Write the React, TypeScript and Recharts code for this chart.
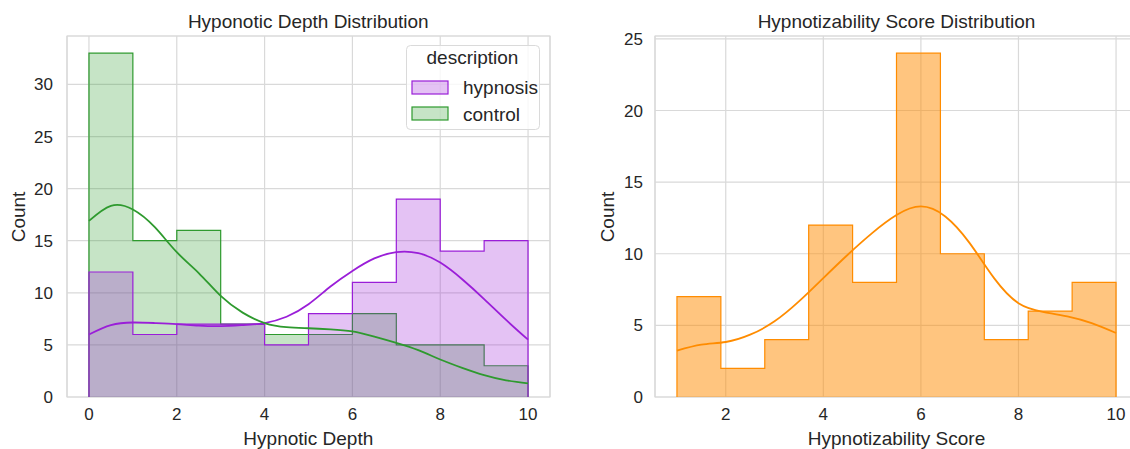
import React from 'react';
import {
  ComposedChart,
  Area,
  Line,
  XAxis,
  YAxis,
  CartesianGrid,
  ReferenceArea,
} from 'recharts';

// ---------- data ----------
const depthBinEdges = [0, 1, 2, 3, 4, 5, 6, 7, 8, 9, 10];
const hypnosisCounts = [12, 6, 7, 7, 5, 8, 11, 19, 14, 15];
const controlCounts = [33, 15, 16, 7, 6, 6, 8, 5, 5, 3];

const depthKdeX = [0, 0.5, 1, 1.5, 2, 2.5, 3, 3.5, 4, 4.5, 5, 5.5, 6, 6.5, 7, 7.5, 8, 8.5, 9, 9.5, 10];
const hypnosisKde = [6.0, 6.9, 7.15, 7.1, 7.0, 6.85, 6.8, 6.9, 7.1, 7.7, 8.9, 10.6, 12.1, 13.3, 13.9, 13.8, 12.9, 11.3, 9.4, 7.4, 5.5];
const controlKde = [16.9, 18.35, 18.0, 16.3, 13.9, 11.9, 9.7, 8.1, 7.1, 6.7, 6.6, 6.5, 6.3, 5.8, 5.2, 4.5, 3.6, 2.8, 2.1, 1.6, 1.3];

const scoreBinEdges = [1, 1.9, 2.8, 3.7, 4.6, 5.5, 6.4, 7.3, 8.2, 9.1, 10];
const scoreCounts = [7, 2, 4, 12, 8, 24, 10, 4, 6, 8];

const scoreKdeX = [1, 1.5, 2, 2.5, 3, 3.5, 4, 4.5, 5, 5.5, 6, 6.5, 7, 7.5, 8, 8.5, 9, 9.5, 10];
const scoreKde = [3.23, 3.65, 3.84, 4.35, 5.28, 6.67, 8.3, 9.93, 11.44, 12.7, 13.3, 12.6, 10.74, 8.3, 6.55, 5.95, 5.63, 5.16, 4.47];

const depthXTicks = [0, 2, 4, 6, 8, 10];
const depthYTicks = [0, 5, 10, 15, 20, 25, 30];
const scoreXTicks = [2, 4, 6, 8, 10];
const scoreYTicks = [0, 5, 10, 15, 20, 25];

const legendLabels = ['hypnosis', 'control'];
const legendTitle = 'description';

// ---------- helpers ----------
const stepSeries = (edges: number[], counts: number[]) => {
  const pts = [{ x: edges[0], y: 0 }];
  counts.forEach((c, i) => pts.push({ x: edges[i], y: c }));
  pts.push({ x: edges[edges.length - 1], y: counts[counts.length - 1] });
  pts.push({ x: edges[edges.length - 1], y: 0 });
  return pts;
};
const lineSeries = (xs: number[], ys: number[]) => xs.map((x, i) => ({ x, y: ys[i] }));

const hypnosisStep = stepSeries(depthBinEdges, hypnosisCounts);
const controlStep = stepSeries(depthBinEdges, controlCounts);
const scoreStep = stepSeries(scoreBinEdges, scoreCounts);
const hypnosisKdeData = lineSeries(depthKdeX, hypnosisKde);
const controlKdeData = lineSeries(depthKdeX, controlKde);
const scoreKdeData = lineSeries(scoreKdeX, scoreKde);

// ---------- style ----------
const FONT = '"Liberation Sans", Arial, Helvetica, sans-serif';
const TEXT = '#262626';
const GRID = '#d9d9d9';
const PURPLE = '#9a1ed8';
const GREEN = '#2e9a2e';
const ORANGE = '#ff8c00';
const tickStyle = { fontSize: 17, fill: TEXT, fontFamily: FONT };

const depthXDomain: [number, number] = [-0.5, 10.5];
const depthYDomain: [number, number] = [0, 34.65];
const scoreXDomain: [number, number] = [0.55, 10.45];
const scoreYDomain: [number, number] = [0, 25.2];

export default function App() {
  return (
    <div
      style={{
        position: 'absolute',
        left: 0,
        top: 0,
        width: 1130,
        height: 449,
        overflow: 'hidden',
        background: '#ffffff',
        fontFamily: FONT,
      }}
    >
      {/* Left chart */}
      <div style={{ position: 'absolute', left: 0, top: 0 }}>
        <ComposedChart width={565} height={449} margin={{ top: 36, right: 15, bottom: 0, left: 7 }}>
          <CartesianGrid stroke={GRID} strokeWidth={1.2} />
          <XAxis
            type="number"
            dataKey="x"
            domain={depthXDomain}
            ticks={depthXTicks}
            interval={0}
            allowDataOverflow
            axisLine={false}
            tickLine={false}
            tickSize={0}
            tickMargin={11}
            height={52}
            tick={tickStyle}
          />
          <YAxis
            type="number"
            domain={depthYDomain}
            ticks={depthYTicks}
            interval={0}
            allowDataOverflow
            axisLine={false}
            tickLine={false}
            tickSize={0}
            tickMargin={14}
            width={60}
            tick={tickStyle}
          />
          <ReferenceArea
            x1={depthXDomain[0]}
            x2={depthXDomain[1]}
            y1={depthYDomain[0]}
            y2={depthYDomain[1]}
            fill="none"
            stroke={GRID}
            strokeWidth={1.2}
            fillOpacity={0}
          />
          <Area
            data={controlStep}
            dataKey="y"
            type="stepAfter"
            stroke={GREEN}
            strokeWidth={1.2}
            fill={GREEN}
            fillOpacity={0.27}
            isAnimationActive={false}
            dot={false}
            activeDot={false}
          />
          <Area
            data={hypnosisStep}
            dataKey="y"
            type="stepAfter"
            stroke={PURPLE}
            strokeWidth={1.2}
            fill={PURPLE}
            fillOpacity={0.27}
            isAnimationActive={false}
            dot={false}
            activeDot={false}
          />
          <Line
            data={hypnosisKdeData}
            dataKey="y"
            type="natural"
            stroke={PURPLE}
            strokeWidth={1.8}
            dot={false}
            activeDot={false}
            isAnimationActive={false}
          />
          <Line
            data={controlKdeData}
            dataKey="y"
            type="natural"
            stroke={GREEN}
            strokeWidth={1.8}
            dot={false}
            activeDot={false}
            isAnimationActive={false}
          />
        </ComposedChart>
      </div>

      {/* Right chart */}
      <div style={{ position: 'absolute', left: 565, top: 0 }}>
        <ComposedChart width={600} height={449} margin={{ top: 36, right: 27, bottom: 0, left: 30 }}>
          <CartesianGrid stroke={GRID} strokeWidth={1.2} />
          <XAxis
            type="number"
            dataKey="x"
            domain={scoreXDomain}
            ticks={scoreXTicks}
            interval={0}
            allowDataOverflow
            axisLine={false}
            tickLine={false}
            tickSize={0}
            tickMargin={11}
            height={52}
            tick={tickStyle}
          />
          <YAxis
            type="number"
            domain={scoreYDomain}
            ticks={scoreYTicks}
            interval={0}
            allowDataOverflow
            axisLine={false}
            tickLine={false}
            tickSize={0}
            tickMargin={12}
            width={60}
            tick={tickStyle}
          />
          <ReferenceArea
            x1={scoreXDomain[0]}
            x2={scoreXDomain[1]}
            y1={scoreYDomain[0]}
            y2={scoreYDomain[1]}
            fill="none"
            stroke={GRID}
            strokeWidth={1.2}
            fillOpacity={0}
          />
          <Area
            data={scoreStep}
            dataKey="y"
            type="stepAfter"
            stroke={ORANGE}
            strokeWidth={1.2}
            fill={ORANGE}
            fillOpacity={0.5}
            isAnimationActive={false}
            dot={false}
            activeDot={false}
          />
          <Line
            data={scoreKdeData}
            dataKey="y"
            type="natural"
            stroke={ORANGE}
            strokeWidth={1.8}
            dot={false}
            activeDot={false}
            isAnimationActive={false}
          />
        </ComposedChart>
      </div>

      {/* Titles, axis labels, legend */}
      <svg
        width={1130}
        height={449}
        style={{ position: 'absolute', left: 0, top: 0, pointerEvents: 'none' }}
        fontFamily={FONT}
      >
        <text x={308.3} y={28} textAnchor="middle" fontSize={19} fill={TEXT}>
          Hyponotic Depth Distribution
        </text>
        <text x={896.5} y={28} textAnchor="middle" fontSize={19} fill={TEXT}>
          Hypnotizability Score Distribution
        </text>
        <text x={308.3} y={445} textAnchor="middle" fontSize={19} fill={TEXT}>
          Hypnotic Depth
        </text>
        <text x={896.5} y={445} textAnchor="middle" fontSize={19} fill={TEXT}>
          Hypnotizability Score
        </text>
        <text
          x={25}
          y={217}
          textAnchor="middle"
          fontSize={19}
          fill={TEXT}
          transform="rotate(-90 25 217)"
        >
          Count
        </text>
        <text
          x={614}
          y={217}
          textAnchor="middle"
          fontSize={19}
          fill={TEXT}
          transform="rotate(-90 614 217)"
        >
          Count
        </text>

        {/* legend */}
        <rect x={406.5} y={45.5} width={133} height={84} rx={4} ry={4} fill="#ffffff" fillOpacity={0.8} stroke="#dadada" strokeWidth={1} />
        <text x={472.5} y={64} textAnchor="middle" fontSize={19} fill={TEXT}>
          {legendTitle}
        </text>
        <rect x={412} y={81} width={36} height={13} fill={PURPLE} fillOpacity={0.27} stroke={PURPLE} strokeWidth={1.2} />
        <text x={463} y={94} fontSize={19} fill={TEXT}>
          {legendLabels[0]}
        </text>
        <rect x={412} y={107} width={36} height={13} fill={GREEN} fillOpacity={0.27} stroke={GREEN} strokeWidth={1.2} />
        <text x={463} y={120.5} fontSize={19} fill={TEXT}>
          {legendLabels[1]}
        </text>
      </svg>
    </div>
  );
}
